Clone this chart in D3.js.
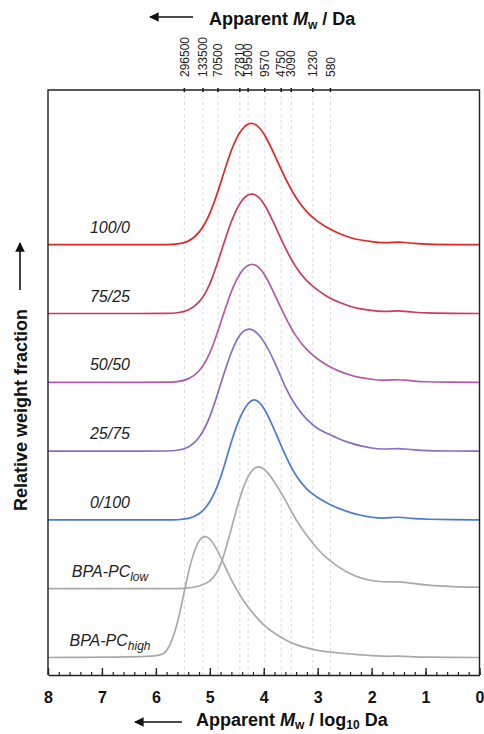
<!DOCTYPE html>
<html>
<head>
<meta charset="utf-8">
<script src="https://cdn.jsdelivr.net/npm/d3@7"></script>
<style>
  body { margin: 0; background: #fff; }
  svg { font-family: "Liberation Sans", Arial, sans-serif; }
  .frame { stroke: #222; stroke-width: 1.4; fill: none; }
  .calib { stroke: #cfcfcf; stroke-width: 0.8; stroke-dasharray: 3,3; }
  .curve { fill: none; stroke-width: 1.7; }
</style>
</head>
<body>
<svg id="chart" width="484" height="734"></svg>
<script>
// log10(Mw) grid the traces were read on
const logMw = [8, 6.0, 5.8, 5.6, 5.4, 5.2, 5.0, 4.8, 4.6, 4.4, 4.2, 4.0, 3.8, 3.6, 3.4, 3.2, 3.0, 2.8, 2.6, 2.4, 2.2, 2.0, 1.8, 1.6, 1.5, 1.4, 1.2, 1.0, 0.5, 0];

// relative weight fraction (a.u.), one array per sample
const w100_0  = [0, 0, 0, 0.5, 2.5, 11, 29, 61, 97, 118, 124, 113, 90, 66, 46, 32, 23, 16, 11, 7, 4.5, 3, 1.8, 2.3, 2.7, 2.3, 1.2, 0.5, 0, 0];
const w75_25  = [0, 0, 0, 0.5, 2.5, 10, 27, 60, 94, 116, 122, 112, 89, 65, 45, 32, 23, 16, 11, 7, 4.5, 3, 1.8, 2.4, 2.7, 2.2, 1.2, 0.5, 0, 0];
const w50_50  = [0, 0, 0, 0.5, 2.5, 10, 27, 59, 93, 114, 120.5, 111, 88, 65, 45, 32, 23, 16, 11, 7, 4.5, 3, 1.8, 2.4, 2.7, 2.2, 1.2, 0.5, 0, 0];
const w25_75  = [0, 0, 0, 0.5, 3, 12, 32, 67, 101, 122, 123, 111, 90, 63, 44, 31, 22, 17, 12, 8, 5, 3, 1.8, 2.4, 2.7, 2.2, 1.2, 0.5, 0, 0];
const w0_100  = [0, 0, 0, 0, 1, 5, 16, 40, 80, 109, 124, 114, 90, 64, 43, 30, 22, 16, 11, 7.5, 4.5, 2.5, 1.5, 2.5, 2.8, 2.2, 1.2, 0.6, 0.2, 0];
const pcLow   = [0, 0, 0, 0, 0.5, 2.5, 6, 20, 60, 101, 123, 122, 107, 89, 68, 53, 39, 29, 21, 15, 10.5, 8, 6.7, 6.8, 7, 6.5, 5, 3.5, 2, 1.5];
const pcHigh  = [0, 0.5, 3, 30, 88, 122, 122, 101, 77, 58, 44, 32, 24, 17.5, 12.5, 9.5, 7, 5.5, 4.5, 3.5, 2.5, 1.8, 1.2, 1.2, 1.4, 1.1, 0.6, 0.3, 0, 0];

// calibration standards on the top axis
const calibMw = [296500, 133500, 70500, 27810, 19500, 9570, 4750, 3090, 1230, 580];
const xTicks = [8, 7, 6, 5, 4, 3, 2, 1, 0];

const series = [
  {name: "100/0", sub: "", values: w100_0, color: "#e02626"},
  {name: "75/25", sub: "", values: w75_25, color: "#cb3a60"},
  {name: "50/50", sub: "", values: w50_50, color: "#b25aa8"},
  {name: "25/75", sub: "", values: w25_75, color: "#8a6cc2"},
  {name: "0/100", sub: "", values: w0_100, color: "#4a7bd0"},
  {name: "BPA-PC", sub: "low", values: pcLow, color: "#aaaaaa"},
  {name: "BPA-PC", sub: "high", values: pcHigh, color: "#aaaaaa"}
];

const svg = d3.select("#chart");
const pLeft = 48, pRight = 479.5, pTop = 90, pBottom = 675;
const step = 68.8; // vertical offset between stacked traces

const x = d3.scaleLinear().domain([8, 0]).range([pLeft, pRight]);
const y = d3.scaleLinear().domain([-17.5, 567.5]).range([pBottom, pTop]);

// calibration dashed lines
svg.append("g").selectAll("line")
  .data(calibMw)
  .enter().append("line")
  .attr("class", "calib")
  .attr("x1", d => x(Math.log10(d))).attr("x2", d => x(Math.log10(d)))
  .attr("y1", pTop).attr("y2", pBottom);

// traces
const line = d3.line().curve(d3.curveBasis);
series.forEach((s, i) => {
  const off = (series.length - 1 - i) * step;
  svg.append("path")
    .attr("class", "curve")
    .attr("stroke", s.color)
    .attr("d", line(logMw.map((m, j) => [x(m), y(off + s.values[j])])));

  const t = svg.append("text")
    .attr("x", 110)
    .attr("y", y(off) - 12)
    .attr("text-anchor", "middle")
    .attr("font-size", 16)
    .attr("font-style", "italic")
    .attr("fill", "#222")
    .text(s.name);
  if (s.sub) {
    t.append("tspan").attr("font-size", 12).attr("dy", 4).text(s.sub);
  }
});

// frame
svg.append("path").attr("class", "frame")
  .attr("d", `M${pLeft},${pBottom}V${pTop}H${pRight}V${pBottom}`);

// bottom axis
const minor = svg.append("g")
  .attr("transform", `translate(0,${pBottom})`)
  .call(d3.axisBottom(x).tickValues(d3.range(0, 41).map(d => d / 5)).tickSize(-3).tickFormat(""));
minor.select(".domain").remove();
minor.selectAll("line").attr("stroke", "#222").attr("stroke-width", 1.2);

const xAxis = svg.append("g")
  .attr("transform", `translate(0,${pBottom})`)
  .call(d3.axisBottom(x).tickValues(xTicks).tickSizeInner(-7).tickSizeOuter(0).tickFormat(d3.format("d")));
xAxis.select(".domain").attr("stroke", "#222").attr("stroke-width", 1.4);
xAxis.selectAll("line").attr("stroke", "#222").attr("stroke-width", 1.4);
xAxis.selectAll("text")
  .attr("y", 28).attr("dy", null)
  .attr("font-size", 16).attr("font-weight", "bold")
  .attr("font-family", "Liberation Sans, Arial, sans-serif")
  .attr("fill", "#111");

// top axis ticks and labels
const topG = svg.append("g");
topG.selectAll("line")
  .data(calibMw)
  .enter().append("line")
  .attr("x1", d => x(Math.log10(d))).attr("x2", d => x(Math.log10(d)))
  .attr("y1", pTop - 2).attr("y2", pTop + 2)
  .attr("stroke", "#222").attr("stroke-width", 1.6);
topG.selectAll("text")
  .data(calibMw)
  .enter().append("text")
  .attr("transform", d => `translate(${x(Math.log10(d))},${pTop - 13}) rotate(-90)`)
  .attr("dy", "0.35em")
  .attr("font-size", 12)
  .attr("fill", "#222")
  .text(d => d);

// arrows
svg.append("defs").append("marker")
  .attr("id", "head")
  .attr("viewBox", "0 0 10 10")
  .attr("refX", 9).attr("refY", 5)
  .attr("markerWidth", 9).attr("markerHeight", 6)
  .attr("orient", "auto")
  .append("path").attr("d", "M0,0L10,5L0,10Z").attr("fill", "#111");

function arrow(x1, y1, x2, y2) {
  svg.append("line")
    .attr("x1", x1).attr("y1", y1).attr("x2", x2).attr("y2", y2)
    .attr("stroke", "#111").attr("stroke-width", 1.6)
    .attr("marker-end", "url(#head)");
}
arrow(193, 17, 150, 17);
arrow(182, 722, 135, 722);
arrow(20, 290, 20, 243);

// titles
const topTitle = svg.append("text")
  .attr("x", 209).attr("y", 25)
  .attr("font-size", 18).attr("font-weight", "bold").attr("fill", "#111");
topTitle.append("tspan").text("Apparent ");
topTitle.append("tspan").attr("font-style", "italic").text("M");
topTitle.append("tspan").attr("font-size", 12).attr("dy", 4).text("w");
topTitle.append("tspan").attr("dy", -4).text(" / Da");

const botTitle = svg.append("text")
  .attr("x", 196).attr("y", 726)
  .attr("font-size", 18).attr("font-weight", "bold").attr("fill", "#111");
botTitle.append("tspan").text("Apparent ");
botTitle.append("tspan").attr("font-style", "italic").text("M");
botTitle.append("tspan").attr("font-size", 12).attr("dy", 3).text("w");
botTitle.append("tspan").attr("dy", -3).text(" / log");
botTitle.append("tspan").attr("font-size", 12).attr("dy", 3).text("10");
botTitle.append("tspan").attr("dy", -3).text(" Da");

svg.append("text")
  .attr("transform", "translate(27,410) rotate(-90)")
  .attr("text-anchor", "middle")
  .attr("font-size", 18).attr("font-weight", "bold").attr("fill", "#111")
  .text("Relative weight fraction");
</script>
</body>
</html>
